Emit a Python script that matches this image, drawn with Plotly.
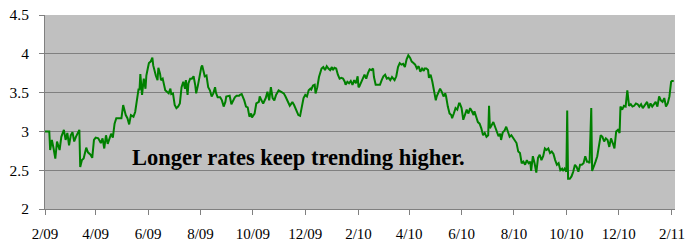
import pandas as pd
import plotly.graph_objects as go

# Days elapsed since 2009-02-01 for each observation, and the rate (%)
start_date = "2009-02-01"
days = [0, 5, 6, 8, 10, 12, 14, 17, 19, 22, 24, 26, 28, 30, 32, 34, 36, 40, 41, 43, 45, 48, 50, 53, 55, 57, 59,
        62, 65, 67, 69, 71, 73, 75, 77, 79, 81, 83, 87, 89, 91, 94, 96, 98, 100, 103, 105, 107, 109, 110, 111,
        113, 114, 115, 117, 118, 120, 121, 123, 125, 126, 127, 129, 131, 132, 134, 135, 137, 139, 140, 142, 144,
        146, 147, 149, 151, 153, 155, 157, 159, 161, 163, 164, 166, 167, 169, 171, 173, 175, 176, 178, 180, 182,
        183, 184, 186, 188, 190, 192, 194, 196, 198, 199, 201, 204, 206, 208, 210, 211, 215, 217, 219, 221, 223,
        226,
        227, 229, 232, 234, 236, 238, 240, 241, 244, 246, 249, 250, 252, 254, 257, 259, 261, 263, 265, 267, 269,
        272, 275, 278, 280, 283, 285, 287, 288, 290, 292, 295, 297, 299, 301, 303, 305, 307, 309, 310, 312, 314,
        315, 317, 319, 322, 324, 326, 328, 330, 332, 334, 335, 337, 339, 341, 343, 345, 347, 349, 350, 352, 354,
        356, 358, 360, 362, 364, 365, 366, 368, 370, 372, 374, 376, 378, 380, 382, 383, 385, 388, 390, 392, 394,
        396, 398, 400, 402, 404, 406, 407, 409, 411, 413, 415, 417, 419, 421, 423, 425, 427, 429, 431, 433, 435,
        437, 439, 441, 442, 444, 446, 447, 449, 451, 453, 455, 456, 458, 460, 462, 464, 466, 467, 469, 471, 473,
        474, 476, 478, 480, 482,
        483, 485, 487, 489, 491, 493, 495, 497, 499, 500, 502, 504, 506, 508, 510, 512, 514, 516, 517, 518, 520,
        522, 524, 526, 528, 530, 531, 533, 535, 537, 539, 541, 543, 545, 547, 549, 551, 553, 555, 557, 559, 561,
        563, 565, 566, 568, 570, 572, 574, 576, 578, 580, 582, 584, 586, 588, 590, 592, 594, 596, 598, 600, 602,
        603, 605, 607, 608, 609, 611, 613, 615, 617, 619, 621, 623, 625, 627, 629, 631, 633, 634, 636, 637, 639,
        641, 643, 645, 647, 649, 651, 653, 655, 657, 659, 661, 663, 665, 667, 669, 670, 672, 674, 676, 677, 678,
        680, 682, 684, 686, 688, 690, 692, 694, 696, 698, 700, 701, 703, 705, 707, 709, 711, 713, 715, 717, 719,
        721, 723, 725, 727, 729, 730, 732]
rates = [3.00, 3.00, 2.76, 2.89, 2.78, 2.65, 2.87, 2.76, 2.93, 3.02, 2.89, 2.98, 2.82, 2.95, 2.99, 2.87, 2.93,
         3.02, 2.54, 2.63, 2.65, 2.79, 2.73, 2.70, 2.66, 2.89, 2.92, 2.91, 2.85, 2.91, 2.78, 2.95, 2.84, 2.91,
         2.97, 2.92, 3.10, 3.17, 3.17, 3.17, 3.34, 3.21, 3.17, 3.09, 3.21, 3.19, 3.25, 3.44, 3.55, 3.53, 3.74,
         3.47, 3.59, 3.68, 3.55, 3.72, 3.83, 3.88, 3.90, 3.95, 3.85, 3.79, 3.72, 3.66, 3.82, 3.74, 3.66, 3.68,
         3.57, 3.53, 3.51, 3.49, 3.55, 3.48, 3.49, 3.34, 3.30, 3.32, 3.36, 3.57, 3.64, 3.55, 3.66, 3.47, 3.62,
         3.68, 3.68, 3.71, 3.59, 3.49, 3.59, 3.72, 3.83, 3.85, 3.79, 3.71, 3.72, 3.57, 3.53, 3.45, 3.49, 3.57,
         3.50, 3.44, 3.44, 3.40, 3.32, 3.38, 3.45, 3.46, 3.35, 3.40, 3.44, 3.46, 3.46,
         3.47, 3.48, 3.40, 3.32, 3.31, 3.19, 3.23, 3.18, 3.23, 3.36, 3.38, 3.45, 3.40, 3.36, 3.43, 3.51, 3.40,
         3.57, 3.43, 3.40, 3.47, 3.53, 3.51, 3.49, 3.45, 3.38, 3.33, 3.36, 3.38, 3.34, 3.28, 3.21, 3.20, 3.32,
         3.43, 3.47, 3.45, 3.53, 3.55, 3.54, 3.59, 3.60, 3.49, 3.57, 3.70, 3.81, 3.83, 3.79, 3.84, 3.81, 3.79,
         3.83, 3.79, 3.82, 3.81, 3.73, 3.68, 3.69, 3.68, 3.64, 3.60, 3.64, 3.62, 3.65, 3.60, 3.66, 3.62, 3.71,
         3.57, 3.58, 3.62, 3.68, 3.73, 3.68, 3.75, 3.80, 3.79, 3.81, 3.70, 3.60, 3.60, 3.60, 3.66, 3.71, 3.73,
         3.68, 3.69, 3.66, 3.70, 3.67, 3.66, 3.71, 3.83, 3.88, 3.86, 3.87, 3.83, 3.93, 3.98, 3.95, 3.90, 3.88,
         3.86, 3.81, 3.84, 3.77, 3.81, 3.78, 3.81, 3.81, 3.79, 3.69, 3.73, 3.64, 3.54, 3.40, 3.45, 3.49, 3.55,
         3.51, 3.45, 3.49, 3.45, 3.32, 3.23, 3.21, 3.17, 3.23, 3.30, 3.28, 3.36,
         3.36, 3.30, 3.15, 3.23, 3.28, 3.23, 3.30, 3.26, 3.21, 3.26, 3.19, 3.12, 3.10, 3.04, 2.95, 2.98, 2.93,
         2.95, 3.33, 3.04, 3.08, 3.12, 3.06, 2.99, 2.94, 2.97, 2.89, 2.99, 3.01, 3.06, 2.99, 2.93, 2.95, 2.91,
         2.89, 2.85, 2.74, 2.72, 2.59, 2.61, 2.57, 2.63, 2.59, 2.61, 2.49, 2.68, 2.59, 2.47, 2.66, 2.70, 2.63,
         2.68, 2.78, 2.76, 2.78, 2.72, 2.74, 2.71, 2.63, 2.57, 2.59, 2.50, 2.52, 2.49, 2.52, 2.48, 3.27, 2.39,
         2.39, 2.42, 2.48, 2.57, 2.54, 2.48, 2.57, 2.57, 2.59, 2.68, 2.61, 2.61, 2.59, 3.30, 2.49, 2.54, 2.61,
         2.68, 2.80, 2.95, 2.93, 2.87, 2.91, 2.89, 2.80, 2.91, 2.85, 2.78, 3.00, 3.02, 2.98, 3.32, 3.28, 3.33,
         3.32, 3.47, 3.53, 3.33, 3.35, 3.32, 3.33, 3.36, 3.35, 3.32, 3.35, 3.30, 3.33, 3.35, 3.38, 3.30, 3.36,
         3.32, 3.35, 3.38, 3.32, 3.45, 3.40, 3.38, 3.43, 3.32, 3.36, 3.45, 3.64, 3.65, 3.65]

tick_dates = ["2009-02-01", "2009-04-01", "2009-06-01", "2009-08-01", "2009-10-01", "2009-12-01",
              "2010-02-01", "2010-04-01", "2010-06-01", "2010-08-01", "2010-10-01", "2010-12-01", "2011-02-01"]
tick_labels = ["2/09", "4/09", "6/09", "8/09", "10/09", "12/09", "2/10", "4/10", "6/10", "8/10", "10/10",
               "12/10", "2/11"]
y_ticks = [2, 2.5, 3, 3.5, 4, 4.5]
y_labels = ["2", "2.5", "3", "3.5", "4", "4.5"]
note = "Longer rates keep trending higher."

dates = pd.Timestamp(start_date) + pd.to_timedelta(days, unit="D")

fig = go.Figure()
fig.add_trace(go.Scatter(x=dates, y=rates, mode="lines",
                         line=dict(color="#008000", width=2), hoverinfo="skip"))

serif = "Liberation Serif, Times New Roman, serif"
fig.update_layout(
    width=687, height=243,
    margin=dict(l=45, r=12, t=15, b=34),
    paper_bgcolor="white", plot_bgcolor="#C0C0C0",
    showlegend=False,
    font=dict(family=serif, size=15, color="black"),
    xaxis=dict(type="date", range=["2009-02-01", "2011-02-04 12:00"], automargin=False,
               tickvals=pd.to_datetime(tick_dates), ticktext=tick_labels,
               showgrid=False, zeroline=False,
               showline=True, linecolor="#808080", linewidth=1,
               ticks="outside", ticklen=5, tickcolor="#808080",
               ticklabelstandoff=6, ticklabeloverflow="allow",
               tickfont=dict(family=serif, size=15)),
    yaxis=dict(range=[2, 4.5], tickvals=y_ticks, ticktext=y_labels, automargin=False,
               showgrid=True, gridcolor="#808080", gridwidth=1, zeroline=False,
               showline=True, linecolor="#808080", linewidth=1,
               ticks="outside", ticklen=5, tickcolor="#808080",
               ticklabelstandoff=7, ticklabeloverflow="allow",
               tickfont=dict(family=serif, size=15.5)),
    annotations=[dict(text=f"<b>{note}</b>", xref="paper", yref="paper",
                      x=0.4016, y=0.268, xanchor="center", yanchor="middle",
                      showarrow=False, font=dict(family=serif, size=22.5, color="black"))],
)

# remove the default page margin so the figure sits at the window's top-left corner
fig.write_html("out.html", config={"displayModeBar": False, "staticPlot": True},
               post_script="document.body.style.margin='0';")
